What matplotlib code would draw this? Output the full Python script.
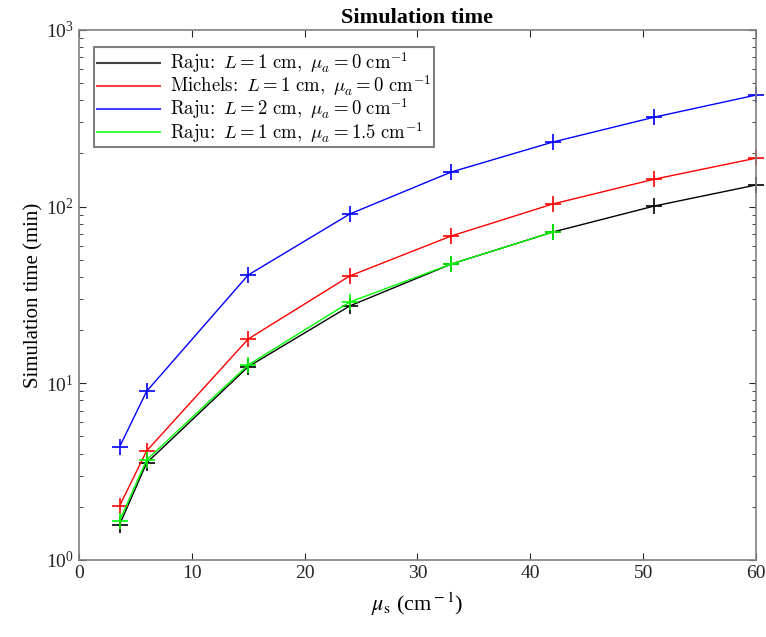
import matplotlib
matplotlib.use("Agg")
import matplotlib.pyplot as plt
from matplotlib.lines import Line2D
from matplotlib.font_manager import FontProperties

# Data
mu_s = [3.6, 6, 15, 24, 33, 42, 51, 60]
raju_L1 = [1.58, 3.54, 12.4, 27.4, 47.3, 71.8, 100.8, 132.5]
michels_L1 = [2.02, 4.14, 17.8, 40.5, 68.2, 103.5, 143, 188]
raju_L2 = [4.36, 9.0, 41, 90.8, 157, 232, 321, 428]
mu_s_abs = [3.6, 6, 15, 24, 33, 42]
raju_L1_abs = [1.66, 3.68, 12.7, 28.8, 47.3, 71.8]

labels = [
    r"$\mathrm{Raju\!:}\ L = 1\ \mathrm{cm},\ \mu_a = 0\ \mathrm{cm}^{-1}$",
    r"$\mathrm{Michels\!:}\ L = 1\ \mathrm{cm},\ \mu_a = 0\ \mathrm{cm}^{-1}$",
    r"$\mathrm{Raju\!:}\ L = 2\ \mathrm{cm},\ \mu_a = 0\ \mathrm{cm}^{-1}$",
    r"$\mathrm{Raju\!:}\ L = 1\ \mathrm{cm},\ \mu_a = 1.5\ \mathrm{cm}^{-1}$",
]
colors = ["#000000", "#ff0000", "#0000ff", "#00ff00"]

plt.rcParams["font.family"] = ["Liberation Serif", "DejaVu Serif"]
plt.rcParams["mathtext.fontset"] = "stix"

fig = plt.figure(figsize=(7.66, 6.37), dpi=100)
ax = fig.add_axes([0.103, 0.121, 0.884, 0.832])

series = [(mu_s, raju_L1), (mu_s, michels_L1), (mu_s, raju_L2), (mu_s_abs, raju_L1_abs)]
for (xs, ys), c in zip(series, colors):
    ax.plot(xs, ys, "-", color=c, marker="+", ms=12, mew=1.2, lw=1, clip_on=False)

ax.set_yscale("log")
ax.set_xlim(0, 60)
ax.set_ylim(1, 1000)
ax.set_xticks([0, 10, 20, 30, 40, 50, 60])
ax.tick_params(which="both", direction="in", top=True, right=True, labelsize=14, colors="#262626")
ax.tick_params(which="major", length=5)
ax.tick_params(which="minor", length=3)
for s in ax.spines.values():
    s.set_color("#808080")
    s.set_linewidth(1.2)

ax.set_title("Simulation time", fontsize=16, fontweight="bold", pad=5)
ax.set_ylabel("Simulation time (min)", fontsize=15, labelpad=2)
ax.set_xlabel(r"$\mu_{\rm s}$ (cm$^{\rm -1}$)", fontsize=16, labelpad=6)

handles = [Line2D([], [], color=c, lw=1.5, alpha=0.75) for c in colors]
leg = ax.legend(handles, labels, loc="upper left", fancybox=False, framealpha=1,
                prop=FontProperties(size=13.5, math_fontfamily="cm"),
                edgecolor="#808080", bbox_to_anchor=(0.022, 0.967), borderaxespad=0,
                handlelength=3.4, handletextpad=0.5, labelspacing=-0.1, borderpad=0.15)
leg.get_frame().set_linewidth(1.5)

fig.savefig("out.png", dpi=100)
